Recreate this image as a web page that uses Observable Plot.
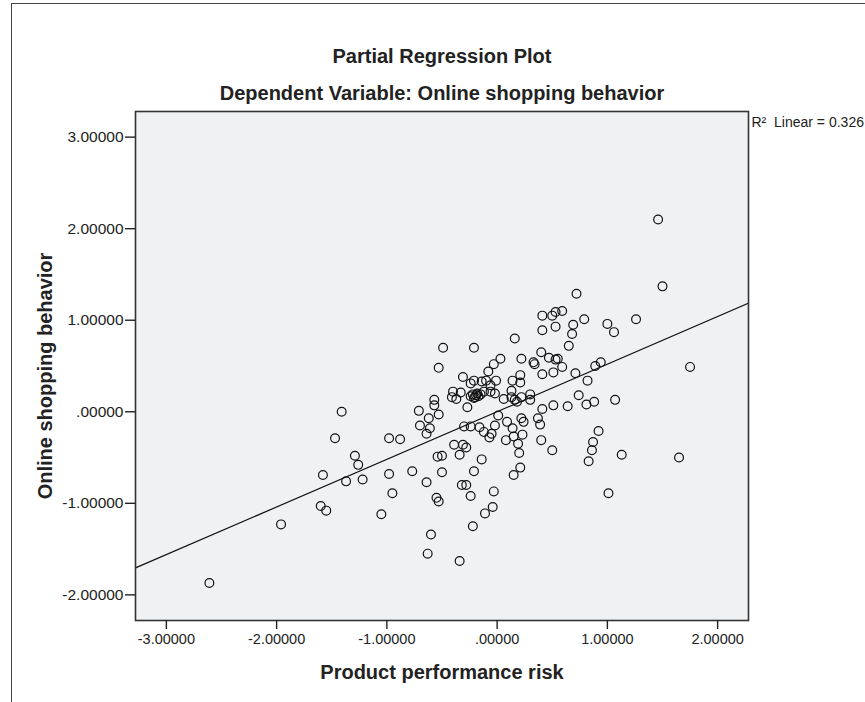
<!DOCTYPE html>
<html>
<head>
<meta charset="utf-8">
<script src="https://cdn.jsdelivr.net/npm/d3@7"></script>
<script src="https://cdn.jsdelivr.net/npm/@observablehq/plot@0.6"></script>
<style>
  html, body { margin: 0; padding: 0; background: #ffffff; }
  #wrap { position: relative; width: 865px; height: 702px; overflow: hidden; }
  #border { position: absolute; left: 11px; top: 3px; right: -10px; bottom: -10px;
            border-top: 1.5px solid #444; border-left: 1.5px solid #444; pointer-events: none; }
  #chart { position: absolute; left: 0; top: 0; }
</style>
</head>
<body>
<div id="wrap"><div id="chart"></div><div id="border"></div></div>
<script>
// Tick values and labels
const xTicks = [-3, -2, -1, 0, 1, 2];
const xTickLabels = ["-3.00000", "-2.00000", "-1.00000", ".00000", "1.00000", "2.00000"];
const yTicks = [-2, -1, 0, 1, 2, 3];
const yTickLabels = ["-2.00000", "-1.00000", ".00000", "1.00000", "2.00000", "3.00000"];

// Texts
const titleText = "Partial Regression Plot";
const subtitleText = "Dependent Variable: Online shopping behavior";
const xLabel = "Product performance risk";
const yLabel = "Online shopping behavior";
const fitLabel = "R\u00b2  Linear = 0.326";

// Fit line
const fitSlope = 0.52;
const fitIntercept = 0.0;

// Partial residuals
const riskX = [
  -2.61, -1.96, -1.60, -1.55, -1.58, -1.47, -1.41, -1.29, -1.26, -1.37, -1.22, -1.05, -0.98, -0.98, -0.95, -0.88,
  -0.77, -0.71, -0.70, -0.64, -0.64, -0.62, -0.61, -0.60, -0.63, -0.57, -0.57, -0.53, -0.55, -0.53, -0.54, -0.50, -0.50, -0.53, -0.49,
  -0.41, -0.40, -0.37, -0.33, -0.31, -0.39, -0.31, -0.28, -0.34, -0.32, -0.28, -0.24, -0.34, -0.22, -0.21, -0.14, -0.30, -0.24, -0.16, -0.12, -0.05, -0.07, -0.27, -0.24, -0.21, -0.14, -0.10, -0.06, -0.01, -0.21, -0.12, -0.06, -0.02,
  -0.24, -0.22, -0.20, -0.19, -0.17, -0.15, -0.21, -0.18,
  -0.08, -0.03, -0.03, -0.04, -0.11, -0.02,
  0.01, 0.03, 0.06, 0.09, 0.08, 0.14, 0.15, 0.19, 0.20, 0.21, 0.15, 0.22, 0.24, 0.23, 0.13, 0.13, 0.16, 0.18, 0.22, 0.30, 0.30, 0.14, 0.21, 0.21, 0.16, 0.22, 0.33, 0.34, 0.37, 0.39, 0.41, 0.40,
  0.40, 0.47, 0.53, 0.55, 0.41, 0.51, 0.59, 0.71, 0.89, 0.94, 0.82, 0.65, 0.41, 0.50, 0.53, 0.59, 0.41, 0.53, 0.69, 0.68, 0.79, 1.00, 1.06, 1.26, 0.72, 1.50, 1.46, 1.75, 0.74, 0.51, 0.64, 0.81, 0.88, 1.07, 0.50, 0.92, 0.87, 0.86, 0.83, 1.13, 1.65, 1.01
];
const behaviorY = [
  -1.87, -1.23, -1.03, -1.08, -0.69, -0.29, 0.00, -0.48, -0.58, -0.76, -0.74, -1.12, -0.29, -0.68, -0.89, -0.30,
  -0.65, 0.01, -0.15, -0.77, -0.24, -0.07, -0.18, -1.34, -1.55, 0.13, 0.07, -0.03, -0.94, -0.98, -0.49, -0.48, -0.66, 0.48, 0.70,
  0.16, 0.22, 0.14, 0.21, 0.38, -0.36, -0.36, -0.39, -0.47, -0.80, -0.80, -0.92, -1.63, -1.25, -0.65, -0.52, -0.16, -0.16, -0.17, -0.22, -0.24, -0.28, 0.05, 0.31, 0.34, 0.33, 0.34, 0.29, 0.34, 0.70, 0.22, 0.22, 0.20,
  0.17, 0.19, 0.16, 0.18, 0.17, 0.19, 0.15, 0.20,
  0.44, 0.52, -0.87, -1.04, -1.11, -0.15,
  -0.04, 0.58, 0.14, -0.11, -0.31, -0.18, -0.27, -0.35, -0.45, -0.61, -0.69, -0.07, -0.11, -0.25, 0.23, 0.16, 0.13, 0.11, 0.16, 0.19, 0.13, 0.34, 0.40, 0.32, 0.80, 0.58, 0.54, 0.52, -0.07, -0.14, 0.03, -0.31,
  0.65, 0.59, 0.57, 0.58, 0.41, 0.43, 0.49, 0.42, 0.50, 0.54, 0.34, 0.72, 1.05, 1.05, 1.09, 1.10, 0.89, 0.93, 0.95, 0.85, 1.01, 0.96, 0.87, 1.01, 1.29, 1.37, 2.10, 0.49, 0.18, 0.07, 0.06, 0.08, 0.11, 0.13, -0.42, -0.21, -0.33, -0.42, -0.54, -0.47, -0.50, -0.89
];

const xDomain = [-3.28, 2.28];
const yDomain = [-2.28, 3.28];

const points = riskX.map((x, i) => ({x, y: behaviorY[i]}));
const fitLine = xDomain.map(x => ({x, y: fitIntercept + fitSlope * x}));

const font = "'Liberation Sans', Arial, Helvetica, sans-serif";
const textColor = "#222";

const chart = Plot.plot({
  width: 865,
  height: 702,
  marginLeft: 135,
  marginRight: 117,
  marginTop: 111,
  marginBottom: 82,
  style: {fontFamily: font, background: "transparent", color: textColor},
  x: {domain: xDomain},
  y: {domain: yDomain},
  marks: [
    Plot.frame({fill: "#f0f1f3", stroke: null}),
    Plot.line(fitLine, {x: "x", y: "y", stroke: "#111", strokeWidth: 1.2, clip: true}),
    Plot.dot(points, {x: "x", y: "y", r: 4.4, stroke: "#111", strokeWidth: 1.2, fill: "none"}),
    Plot.frame({stroke: "#333", strokeWidth: 1.6}),
    Plot.axisX({ticks: xTicks, tickFormat: d => xTickLabels[xTicks.indexOf(d)], tickSize: 9, tickPadding: 4,
                fontSize: 14.5, label: null, color: textColor, strokeWidth: 1.4}),
    Plot.axisY({ticks: yTicks, tickFormat: d => yTickLabels[yTicks.indexOf(d)], tickSize: 10, tickPadding: 2,
                fontSize: 15.5, label: null, color: textColor, strokeWidth: 1.4}),
    Plot.text([titleText], {frameAnchor: "top", dy: -55, lineAnchor: "middle", fontSize: 20, fontWeight: "bold", fill: textColor}),
    Plot.text([subtitleText], {frameAnchor: "top", dy: -18, lineAnchor: "middle", fontSize: 20, fontWeight: "bold", fill: textColor}),
    Plot.text([xLabel], {frameAnchor: "bottom", dy: 52, lineAnchor: "middle", fontSize: 20, fontWeight: "bold", fill: textColor}),
    Plot.text([yLabel], {frameAnchor: "left", textAnchor: "middle", dx: -90, dy: 10, rotate: -90, lineAnchor: "middle", fontSize: 20, fontWeight: "bold", fill: textColor}),
    Plot.text([fitLabel], {frameAnchor: "top-right", dx: 3, dy: 11, textAnchor: "start", lineAnchor: "middle", fontSize: 14, fill: textColor})
  ]
});
document.getElementById("chart").appendChild(chart);
</script>
</body>
</html>
